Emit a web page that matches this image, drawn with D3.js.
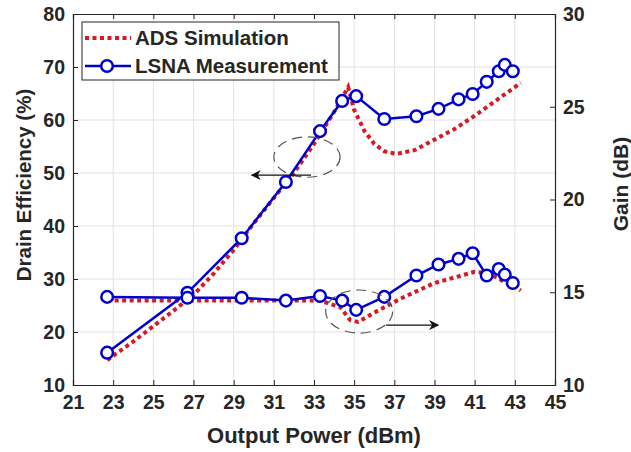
<!DOCTYPE html>
<html>
<head>
<meta charset="utf-8">
<script src="https://cdn.jsdelivr.net/npm/d3@7"></script>
<style>
  html, body { margin: 0; padding: 0; background: #fff; }
  svg text { font-family: "Liberation Sans", Arial, sans-serif; font-weight: bold; fill: #262626; }
</style>
</head>
<body>
<div id="chart"></div>
<script>
// measured (LSNA)
const powerMeas = [22.7, 26.7, 29.4, 31.6, 33.3, 34.4, 35.1, 36.5, 38.1, 39.2, 40.2, 40.9, 41.6, 42.2, 42.5, 42.9]
const effMeas   = [16.1, 27.4, 37.7, 48.3, 57.9, 63.6, 64.5, 60.2, 60.7, 62.1, 63.9, 64.9, 67.2, 69.2, 70.4, 69.2]
const gainMeas  = [14.75, 14.7, 14.7, 14.55, 14.8, 14.55, 14.05, 14.75, 15.9, 16.5, 16.8, 17.1, 15.9, 16.25, 15.95, 15.5]

// simulated (ADS)
const powerSimEff = [22.7, 24, 25, 26, 27, 28, 29, 30, 31, 32, 33, 34, 34.7, 35.0, 35.5, 36, 36.5, 37.1, 38, 39, 40, 41, 42, 43, 43.3]
const effSim      = [14.7, 18.2, 21.1, 24.0, 27.0, 31.0, 35.5, 40.5, 45.3, 50.0, 55.5, 61.5, 66.2, 61.9, 58.0, 55.5, 54.1, 53.6, 54.3, 56.3, 58.3, 60.8, 63.5, 66.2, 67.0]
const powerSimGain = [22.7, 25, 28, 31, 33.3, 34.3, 34.8, 35.2, 36, 37.3, 39, 41, 41.5, 42, 42.5, 43, 43.3]
const gainSim      = [14.55, 14.55, 14.55, 14.55, 14.55, 14.2, 13.5, 13.4, 13.9, 14.65, 15.5, 16.1, 16.05, 15.85, 15.55, 15.3, 15.1]

const xTicks = [21, 23, 25, 27, 29, 31, 33, 35, 37, 39, 41, 43, 45]
const effTicks = [10, 20, 30, 40, 50, 60, 70, 80]
const gainTicks = [10, 15, 20, 25, 30]
const seriesNames = ['ADS Simulation', 'LSNA Measurement']

const width = 631, height = 452
const margin = {top: 14, right: 76, bottom: 67, left: 73}
const red = '#d41a22', blue = '#0000cc', axisCol = '#262626'

const svg = d3.select('#chart').append('svg')
  .attr('width', width).attr('height', height)

const x = d3.scaleLinear().domain([21, 45]).range([margin.left, width - margin.right])
const yEff = d3.scaleLinear().domain([10, 80]).range([height - margin.bottom, margin.top])
const yGain = d3.scaleLinear().domain([10, 30]).range([height - margin.bottom, margin.top])

// grid
const grid = svg.append('g')
grid.selectAll('.vg').data(xTicks.slice(1, -1)).join('line')
  .attr('x1', d => x(d)).attr('x2', d => x(d))
  .attr('y1', margin.top).attr('y2', height - margin.bottom)
  .attr('stroke', '#e3e3e3').attr('stroke-width', 1)
grid.selectAll('.hg').data(effTicks.slice(1, -1)).join('line')
  .attr('y1', d => yEff(d)).attr('y2', d => yEff(d))
  .attr('x1', margin.left).attr('x2', width - margin.right)
  .attr('stroke', '#e3e3e3').attr('stroke-width', 1)

// axes
const fs = 19.5
const xAxis = svg.append('g').attr('transform', `translate(0,${height - margin.bottom})`)
  .call(d3.axisBottom(x).tickValues(xTicks).tickSize(-5).tickPadding(10).tickFormat(d3.format('d')))
const xTop = svg.append('g').attr('transform', `translate(0,${margin.top})`)
  .call(d3.axisTop(x).tickValues(xTicks).tickSize(-5).tickFormat(''))
const yLeft = svg.append('g').attr('transform', `translate(${margin.left},0)`)
  .call(d3.axisLeft(yEff).tickValues(effTicks).tickSize(-5).tickPadding(8))
const yRight = svg.append('g').attr('transform', `translate(${width - margin.right},0)`)
  .call(d3.axisRight(yGain).tickValues(gainTicks).tickSize(-5).tickPadding(8))

;[xAxis, xTop, yLeft, yRight].forEach(g => {
  g.select('.domain').attr('stroke', axisCol).attr('stroke-width', 1.2)
  g.selectAll('.tick line').attr('stroke', axisCol).attr('stroke-width', 1)
  g.selectAll('text').style('font-size', fs + 'px').attr('fill', axisCol)
})
xAxis.selectAll('text').attr('dy', '0.72em')

// axis labels
svg.append('text')
  .attr('x', x(33)).attr('y', 443)
  .attr('text-anchor', 'middle').style('font-size', '22px')
  .text('Output Power (dBm)')
svg.append('text')
  .attr('transform', `translate(31,185) rotate(-90)`)
  .attr('text-anchor', 'middle').style('font-size', '20.5px')
  .text('Drain Efficiency (%)')
svg.append('text')
  .attr('transform', `translate(628,184) rotate(-90)`)
  .attr('text-anchor', 'middle').style('font-size', '21px')
  .text('Gain (dB)')

// lines
const lineEff = d3.line().x(d => x(d[0])).y(d => yEff(d[1]))
const lineGain = d3.line().x(d => x(d[0])).y(d => yGain(d[1]))

const simEff = d3.zip(powerSimEff, effSim)
const simGain = d3.zip(powerSimGain, gainSim)
const measEff = d3.zip(powerMeas, effMeas)
const measGain = d3.zip(powerMeas, gainMeas)

const plot = svg.append('g')
;[[simEff, lineEff], [simGain, lineGain]].forEach(([data, fn]) => {
  plot.append('path').datum(data).attr('d', fn)
    .attr('fill', 'none').attr('stroke', red).attr('stroke-width', 4)
    .attr('stroke-dasharray', '4,3.5')
})
;[[measEff, lineEff, yEff], [measGain, lineGain, yGain]].forEach(([data, fn, ys]) => {
  plot.append('path').datum(data).attr('d', fn)
    .attr('fill', 'none').attr('stroke', blue).attr('stroke-width', 2.5)
  plot.selectAll(null).data(data).join('circle')
    .attr('cx', d => x(d[0])).attr('cy', d => ys(d[1])).attr('r', 5.8)
    .attr('fill', '#fff').attr('stroke', blue).attr('stroke-width', 2.5)
})

// annotations
const defs = svg.append('defs')
defs.append('marker').attr('id', 'arr').attr('viewBox', '0 0 10 10')
  .attr('refX', 9).attr('refY', 5).attr('markerWidth', 10).attr('markerHeight', 10)
  .attr('markerUnits', 'userSpaceOnUse').attr('orient', 'auto')
  .append('path').attr('d', 'M0,0 L10,5 L0,10 L3,5 Z').attr('fill', '#111')

const ann = svg.append('g')
ann.append('ellipse')
  .attr('cx', x(32.65)).attr('cy', yEff(53.0))
  .attr('rx', x(34.3) - x(32.65)).attr('ry', yEff(53.0) - yEff(56.8))
  .attr('fill', 'none').attr('stroke', '#555').attr('stroke-width', 1.2)
  .attr('stroke-dasharray', '10,6')
ann.append('line')
  .attr('x1', x(32.85)).attr('x2', x(29.9))
  .attr('y1', yEff(49.6)).attr('y2', yEff(49.6))
  .attr('stroke', '#111').attr('stroke-width', 1.3).attr('marker-end', 'url(#arr)')
ann.append('ellipse')
  .attr('cx', x(35.25)).attr('cy', yGain(13.96))
  .attr('rx', x(36.92) - x(35.25)).attr('ry', yGain(13.96) - yGain(15.12))
  .attr('fill', 'none').attr('stroke', '#555').attr('stroke-width', 1.2)
  .attr('stroke-dasharray', '10,6')
ann.append('line')
  .attr('x1', x(36.59)).attr('x2', x(39.18))
  .attr('y1', yGain(13.23)).attr('y2', yGain(13.23))
  .attr('stroke', '#111').attr('stroke-width', 1.3).attr('marker-end', 'url(#arr)')

// legend
const lg = svg.append('g').attr('transform', 'translate(82,22)')
lg.append('rect').attr('width', 257).attr('height', 58)
  .attr('fill', '#fff').attr('stroke', axisCol).attr('stroke-width', 1)
const rows = lg.selectAll('.row').data(seriesNames).join('g')
  .attr('transform', (d, i) => `translate(0,${16 + i * 28})`)
rows.append('line').attr('x1', 3).attr('x2', 49).attr('y1', 0).attr('y2', 0)
  .attr('stroke', (d, i) => i ? blue : red)
  .attr('stroke-width', (d, i) => i ? 2.5 : 4)
  .attr('stroke-dasharray', (d, i) => i ? null : '4,3.5')
rows.filter((d, i) => i === 1).append('circle')
  .attr('cx', 25).attr('cy', 0).attr('r', 5.8)
  .attr('fill', '#fff').attr('stroke', blue).attr('stroke-width', 2.5)
rows.append('text').attr('x', 53).attr('y', 0).attr('dy', '0.35em')
  .style('font-size', '20.5px')
  .text(d => d)
</script>
</body>
</html>
